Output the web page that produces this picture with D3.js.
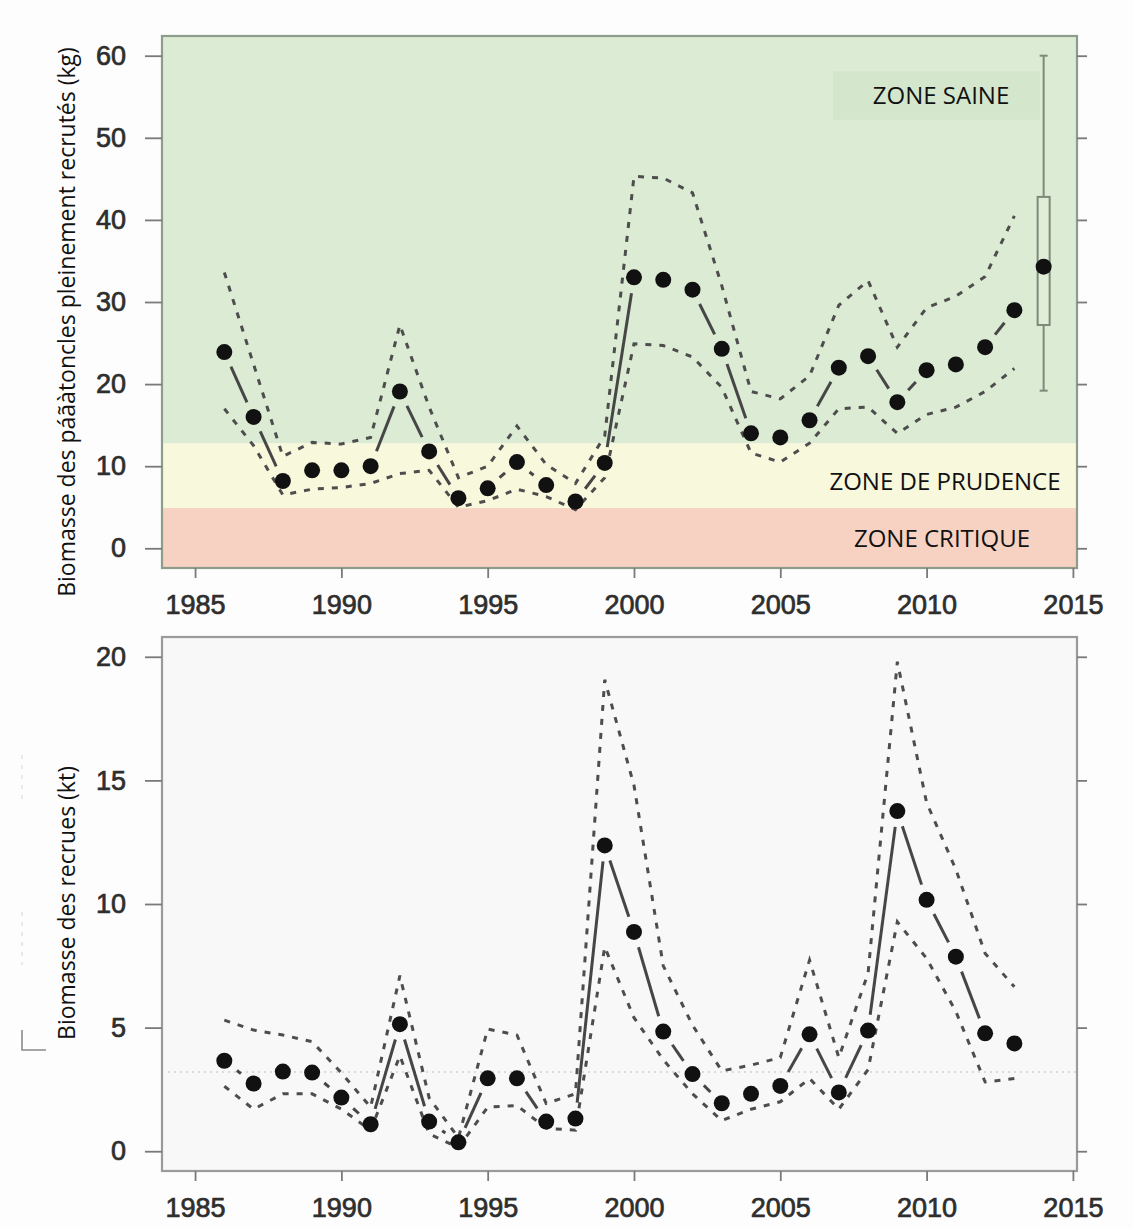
<!DOCTYPE html>
<html>
<head>
<meta charset="utf-8">
<script src="https://cdn.jsdelivr.net/npm/d3@7"></script>
<style>
  html,body{margin:0;padding:0;background:#fdfdfd;}
  svg{display:block;}
</style>
</head>
<body>
<svg id="chart" width="1133" height="1228"></svg>
<script>
// ---------------- DATA ----------------
const years = [1986,1987,1988,1989,1990,1991,1992,1993,1994,1995,1996,1997,1998,1999,
               2000,2001,2002,2003,2004,2005,2006,2007,2008,2009,2010,2011,2012,2013];

// Top panel: fully recruited scallop biomass (kg)
const adultBiomass = [23.9,16.0,8.2,9.5,9.5,10.0,19.1,11.8,6.1,7.3,10.5,7.7,5.7,10.4,
                      33.0,32.7,31.5,24.3,14.0,13.5,15.6,22.0,23.4,17.8,21.7,22.4,24.5,29.0];
const adultUpper   = [33.6,22.4,11.2,12.9,12.7,13.5,27.2,17.2,8.6,10.0,14.9,10.2,7.9,13.7,
                      45.3,45.1,43.3,32.0,19.1,18.2,21.0,29.6,32.6,24.5,29.3,30.7,33.1,40.5];
const adultLower   = [17.0,12.5,6.5,7.2,7.4,7.9,9.1,9.5,5.0,5.8,7.2,6.3,4.7,8.6,
                      24.9,24.7,23.3,19.6,11.6,10.5,12.8,17.0,17.2,14.0,16.3,17.2,19.1,21.9];

// Projection for 2014 (box plot): [min, q1, median, q3, max]
const projYear  = 2014;
const projStats = [19.2, 27.2, 34.3, 42.8, 60.0];

// Zone limits (kg) and labels
const zoneLimits = [4.9, 12.8];
const zoneLabels = ["ZONE CRITIQUE", "ZONE DE PRUDENCE", "ZONE SAINE"];

// Bottom panel: recruit biomass (kt)
const recruitBiomass = [3.66,2.74,3.22,3.18,2.17,1.09,5.14,1.20,0.36,2.95,2.95,1.20,1.32,12.37,
                        8.87,4.84,3.12,1.94,2.32,2.64,4.73,2.38,4.88,13.76,10.17,7.87,4.77,4.36];
const recruitUpper   = [5.30,4.90,4.70,4.43,3.17,1.78,7.10,2.16,0.54,4.94,4.70,1.93,2.32,19.07,
                        14.80,7.50,5.10,3.25,3.48,3.79,7.73,3.79,7.20,19.80,14.10,11.40,8.00,6.65];
const recruitLower   = [2.63,1.70,2.32,2.32,1.70,0.85,3.86,0.70,0.15,1.78,1.85,0.93,0.85,8.26,
                        5.40,3.70,2.32,1.24,1.70,2.00,2.94,1.70,3.30,9.28,7.80,5.65,2.80,2.94];
const recruitRef = 3.2;

// Tick labels
const xTicks       = [1985,1990,1995,2000,2005,2010,2015];
const yTicksTop    = [0,10,20,30,40,50,60];
const yTicksBottom = [0,5,10,15,20];

const titleTop    = "Biomasse des páãàtoncles pleinement recrutés (kg)";
const titleBottom = "Biomasse des recrues (kt)";

// ---------------- DRAWING ----------------
const svg = d3.select("#chart");
const tickFont = "'Liberation Sans', Arial, Helvetica, sans-serif";
const labelFont = "'Open Sans', 'Noto Sans', sans-serif";

const x = d3.scaleLinear().domain([1983.87, 2015.14]).range([162, 1077]);
const yTop = d3.scaleLinear().domain([-2.4, 62.4]).range([568, 36]);
const yBot = d3.scaleLinear().domain([-0.8, 20.8]).range([1171, 637]);

function gapSegments(vals, ys, gap) {
  const out = [];
  for (let i = 0; i < vals.length - 1; i++) {
    const x1 = x(years[i]), y1 = ys(vals[i]), x2 = x(years[i+1]), y2 = ys(vals[i+1]);
    const dx = x2 - x1, dy = y2 - y1, L = Math.hypot(dx, dy);
    if (L > 2 * gap + 2) {
      out.push([x1 + dx / L * gap, y1 + dy / L * gap, x2 - dx / L * gap, y2 - dy / L * gap]);
    }
  }
  return out;
}

function drawSeries(g, ys, mid, up, lo) {
  const line = d3.line().x((d, i) => x(years[i])).y(d => ys(d));
  [up, lo].forEach(arr => {
    g.append("path").attr("d", line(arr))
      .attr("fill", "none").attr("stroke", "#4d4d4d").attr("stroke-width", 3)
      .attr("stroke-dasharray", "6,8");
  });
  g.selectAll(null).data(gapSegments(mid, ys, 16)).enter().append("line")
    .attr("x1", d => d[0]).attr("y1", d => d[1]).attr("x2", d => d[2]).attr("y2", d => d[3])
    .attr("stroke", "#464646").attr("stroke-width", 3);
  g.selectAll(null).data(mid).enter().append("circle")
    .attr("cx", (d, i) => x(years[i])).attr("cy", d => ys(d)).attr("r", 8)
    .attr("fill", "#111");
}

function drawAxes(ys, yTicks, frameColor) {
  const [r0, r1] = ys.range();
  const xl = x.range()[0], xr = x.range()[1];
  svg.append("rect").attr("x", xl).attr("y", r1).attr("width", xr - xl).attr("height", r0 - r1)
    .attr("fill", "none").attr("stroke", frameColor).attr("stroke-width", 2.2);
  const gl = svg.append("g").attr("transform", `translate(${xl},0)`)
    .call(d3.axisLeft(ys).tickValues(yTicks).tickSize(17).tickPadding(19).tickFormat(d3.format("d")));
  const gr = svg.append("g").attr("transform", `translate(${xr},0)`)
    .call(d3.axisRight(ys).tickValues(yTicks).tickSize(10).tickFormat(""));
  const gb = svg.append("g").attr("transform", `translate(0,${r0})`)
    .call(d3.axisBottom(x).tickValues(xTicks).tickSize(10).tickPadding(17).tickFormat(d3.format("d")));
  [gl, gr, gb].forEach(g => {
    g.select(".domain").remove();
    g.selectAll(".tick line").attr("stroke", "#7a7a7a").attr("stroke-width", 1.8);
    g.selectAll(".tick text").attr("fill", "#2e2e2e").attr("stroke", "#2e2e2e")
      .attr("stroke-width", 0.7).style("font-family", tickFont)
      .style("font-size", "27px");
  });
}

// ---------- Top panel ----------
const topG = svg.append("g");
const [tb, tt] = yTop.domain();
const zoneBands = [
  {lo: tb, hi: zoneLimits[0], fill: "#f7d1c1"},
  {lo: zoneLimits[0], hi: zoneLimits[1], fill: "#f8f8dd"},
  {lo: zoneLimits[1], hi: tt, fill: "#dcebd3"}
];
topG.selectAll(null).data(zoneBands).enter().append("rect")
  .attr("x", x.range()[0]).attr("width", x.range()[1] - x.range()[0])
  .attr("y", d => yTop(d.hi)).attr("height", d => yTop(d.lo) - yTop(d.hi))
  .attr("fill", d => d.fill);

topG.append("rect").attr("x", 833).attr("width", 207)
  .attr("y", yTop(58.1)).attr("height", yTop(52.2) - yTop(58.1))
  .attr("fill", "#d4e6cc");

const zoneLabelPos = [
  {v: (tb + zoneLimits[0]) / 2, cx: 942},
  {v: 8.1, cx: 945},
  {v: 55.2, cx: 941}
];
topG.selectAll(null).data(zoneLabels).enter().append("text")
  .attr("x", (d, i) => zoneLabelPos[i].cx)
  .attr("y", (d, i) => yTop(zoneLabelPos[i].v) + 8.5)
  .attr("text-anchor", "middle")
  .style("font-family", labelFont).style("font-size", "24px").attr("fill", "#111")
  .text(d => d);

drawSeries(topG, yTop, adultBiomass, adultUpper, adultLower);

const bx = x(projYear), bw = 12;
topG.append("line").attr("x1", bx).attr("x2", bx).attr("y1", yTop(projStats[0])).attr("y2", yTop(projStats[4]))
  .attr("stroke", "#7d8a7a").attr("stroke-width", 2);
[projStats[0], projStats[4]].forEach(v => {
  topG.append("line").attr("x1", bx - 4).attr("x2", bx + 4).attr("y1", yTop(v)).attr("y2", yTop(v))
    .attr("stroke", "#7d8a7a").attr("stroke-width", 2);
});
topG.append("rect").attr("x", bx - bw / 2).attr("width", bw)
  .attr("y", yTop(projStats[3])).attr("height", yTop(projStats[1]) - yTop(projStats[3]))
  .attr("fill", "#e0eed8").attr("stroke", "#7d8a7a").attr("stroke-width", 2);
topG.append("circle").attr("cx", bx).attr("cy", yTop(projStats[2])).attr("r", 8).attr("fill", "#111");

drawAxes(yTop, yTicksTop, "#8e9c8b");

// ---------- Bottom panel ----------
const botG = svg.append("g");
botG.append("rect").attr("x", x.range()[0]).attr("width", x.range()[1] - x.range()[0])
  .attr("y", yBot.range()[1]).attr("height", yBot.range()[0] - yBot.range()[1])
  .attr("fill", "#f8f8f8");
botG.append("line").attr("x1", x.range()[0] + 6).attr("x2", x.range()[1])
  .attr("y1", yBot(recruitRef)).attr("y2", yBot(recruitRef))
  .attr("stroke", "#cfcfcf").attr("stroke-width", 1.5).attr("stroke-dasharray", "2,4");

drawSeries(botG, yBot, recruitBiomass, recruitUpper, recruitLower);
drawAxes(yBot, yTicksBottom, "#9a9a9a");

svg.append("path").attr("d", "M22,1030 L22,1050 L46,1050")
  .attr("fill", "none").attr("stroke", "#8a8a8a").attr("stroke-width", 1.6);
svg.append("line").attr("x1", 22).attr("x2", 22).attr("y1", 755).attr("y2", 800)
  .attr("stroke", "#e2e2e2").attr("stroke-width", 1.5).attr("stroke-dasharray", "4,6");
svg.append("line").attr("x1", 22).attr("x2", 22).attr("y1", 912).attr("y2", 965)
  .attr("stroke", "#e2e2e2").attr("stroke-width", 1.5).attr("stroke-dasharray", "4,6");

// ---------- Axis titles ----------
[[titleTop, 322], [titleBottom, 903]].forEach(([t, cy]) => {
  svg.append("text").attr("transform", `translate(75,${cy}) rotate(-90)`)
    .attr("text-anchor", "middle")
    .style("font-family", labelFont).style("font-size", "23px").attr("fill", "#111")
    .text(t);
});
</script>
</body>
</html>
